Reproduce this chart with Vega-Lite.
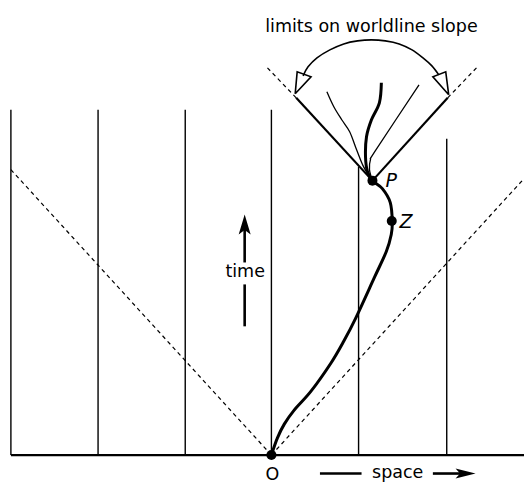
{
  "$schema": "https://vega.github.io/schema/vega-lite/v6.json",
  "width": 529,
  "height": 484,
  "autosize": {"type": "fit", "contains": "padding"},
  "padding": 0,
  "background": "white",
  "config": {"view": {"stroke": null}},
  "datasets": {
    "paths": [
      {"g": "v1", "k": "grid", "o": 0, "x": 11, "y": 110},
      {"g": "v1", "k": "grid", "o": 1, "x": 11, "y": 456},
      {"g": "v2", "k": "grid", "o": 0, "x": 99, "y": 110},
      {"g": "v2", "k": "grid", "o": 1, "x": 99, "y": 456},
      {"g": "v3", "k": "grid", "o": 0, "x": 187, "y": 110},
      {"g": "v3", "k": "grid", "o": 1, "x": 187, "y": 456},
      {"g": "v4", "k": "grid", "o": 0, "x": 274, "y": 110},
      {"g": "v4", "k": "grid", "o": 1, "x": 274, "y": 456},
      {"g": "v5", "k": "grid", "o": 0, "x": 362, "y": 167},
      {"g": "v5", "k": "grid", "o": 1, "x": 362, "y": 456},
      {"g": "v6", "k": "grid", "o": 0, "x": 451, "y": 139},
      {"g": "v6", "k": "grid", "o": 1, "x": 451, "y": 456},
      {"g": "ax", "k": "axis", "o": 0, "x": 11, "y": 456},
      {"g": "ax", "k": "axis", "o": 1, "x": 529, "y": 456},
      {"g": "c1", "k": "cone", "o": 0, "x": 274, "y": 456},
      {"g": "c1", "k": "cone", "o": 1, "x": 11, "y": 170},
      {"g": "c2", "k": "cone", "o": 0, "x": 274, "y": 456},
      {"g": "c2", "k": "cone", "o": 1, "x": 529, "y": 179},
      {"g": "c3", "k": "cone", "o": 0, "x": 299, "y": 98},
      {"g": "c3", "k": "cone", "o": 1, "x": 270, "y": 68},
      {"g": "c4", "k": "cone", "o": 0, "x": 452, "y": 98},
      {"g": "c4", "k": "cone", "o": 1, "x": 481, "y": 68},
      {"g": "e1", "k": "edge", "o": 0, "x": 376, "y": 181},
      {"g": "e1", "k": "edge", "o": 1, "x": 299, "y": 98},
      {"g": "e2", "k": "edge", "o": 0, "x": 376, "y": 181},
      {"g": "e2", "k": "edge", "o": 1, "x": 452, "y": 98},
      {"g": "w", "k": "world", "o": 0, "x": 274, "y": 456},
      {"g": "w", "k": "world", "o": 1, "x": 280, "y": 439},
      {"g": "w", "k": "world", "o": 2, "x": 287, "y": 425},
      {"g": "w", "k": "world", "o": 3, "x": 297, "y": 411},
      {"g": "w", "k": "world", "o": 4, "x": 314, "y": 392},
      {"g": "w", "k": "world", "o": 5, "x": 334, "y": 364},
      {"g": "w", "k": "world", "o": 6, "x": 347, "y": 342},
      {"g": "w", "k": "world", "o": 7, "x": 359, "y": 319},
      {"g": "w", "k": "world", "o": 8, "x": 378, "y": 278},
      {"g": "w", "k": "world", "o": 9, "x": 390, "y": 252},
      {"g": "w", "k": "world", "o": 10, "x": 395, "y": 235},
      {"g": "w", "k": "world", "o": 11, "x": 396, "y": 222},
      {"g": "w", "k": "world", "o": 12, "x": 394, "y": 203},
      {"g": "w", "k": "world", "o": 13, "x": 386, "y": 189},
      {"g": "w", "k": "world", "o": 14, "x": 376, "y": 181},
      {"g": "w", "k": "world", "o": 15, "x": 371, "y": 172},
      {"g": "w", "k": "world", "o": 16, "x": 369, "y": 157},
      {"g": "w", "k": "world", "o": 17, "x": 370, "y": 137},
      {"g": "w", "k": "world", "o": 18, "x": 375, "y": 120},
      {"g": "w", "k": "world", "o": 19, "x": 383, "y": 103},
      {"g": "w", "k": "world", "o": 20, "x": 385, "y": 83},
      {"g": "f1", "k": "fan", "o": 0, "x": 376, "y": 181},
      {"g": "f1", "k": "fan", "o": 1, "x": 367, "y": 167},
      {"g": "f1", "k": "fan", "o": 2, "x": 360, "y": 150},
      {"g": "f1", "k": "fan", "o": 3, "x": 353, "y": 132},
      {"g": "f1", "k": "fan", "o": 4, "x": 345, "y": 120},
      {"g": "f1", "k": "fan", "o": 5, "x": 337, "y": 107},
      {"g": "f1", "k": "fan", "o": 6, "x": 330, "y": 92},
      {"g": "f2", "k": "fan", "o": 0, "x": 376, "y": 181},
      {"g": "f2", "k": "fan", "o": 1, "x": 373, "y": 170},
      {"g": "f2", "k": "fan", "o": 2, "x": 374, "y": 160},
      {"g": "f2", "k": "fan", "o": 3, "x": 379, "y": 151},
      {"g": "f2", "k": "fan", "o": 4, "x": 423, "y": 85},
      {"g": "a", "k": "arc", "o": 0, "x": 306, "y": 76},
      {"g": "a", "k": "arc", "o": 1, "x": 311, "y": 67},
      {"g": "a", "k": "arc", "o": 2, "x": 320, "y": 58},
      {"g": "a", "k": "arc", "o": 3, "x": 333, "y": 50},
      {"g": "a", "k": "arc", "o": 4, "x": 347, "y": 44},
      {"g": "a", "k": "arc", "o": 5, "x": 361, "y": 41},
      {"g": "a", "k": "arc", "o": 6, "x": 375, "y": 40},
      {"g": "a", "k": "arc", "o": 7, "x": 389, "y": 41},
      {"g": "a", "k": "arc", "o": 8, "x": 403, "y": 44},
      {"g": "a", "k": "arc", "o": 9, "x": 416, "y": 50},
      {"g": "a", "k": "arc", "o": 10, "x": 427, "y": 58},
      {"g": "a", "k": "arc", "o": 11, "x": 436, "y": 66},
      {"g": "a", "k": "arc", "o": 12, "x": 443, "y": 75},
      {"g": "h1", "k": "head", "o": 0, "x": 298, "y": 94},
      {"g": "h1", "k": "head", "o": 1, "x": 300, "y": 72},
      {"g": "h1", "k": "head", "o": 2, "x": 314, "y": 77},
      {"g": "h1", "k": "head", "o": 3, "x": 298, "y": 94},
      {"g": "h2", "k": "head", "o": 0, "x": 453, "y": 95},
      {"g": "h2", "k": "head", "o": 1, "x": 450, "y": 72},
      {"g": "h2", "k": "head", "o": 2, "x": 437, "y": 77},
      {"g": "h2", "k": "head", "o": 3, "x": 453, "y": 95},
      {"g": "t1", "k": "shaft", "o": 0, "x": 247, "y": 228},
      {"g": "t1", "k": "shaft", "o": 1, "x": 247, "y": 263},
      {"g": "t2", "k": "shaft", "o": 0, "x": 247, "y": 285},
      {"g": "t2", "k": "shaft", "o": 1, "x": 247, "y": 327},
      {"g": "s1", "k": "shaft", "o": 0, "x": 323, "y": 474.5},
      {"g": "s1", "k": "shaft", "o": 1, "x": 365, "y": 474.5},
      {"g": "s2", "k": "shaft", "o": 0, "x": 437, "y": 474.5},
      {"g": "s2", "k": "shaft", "o": 1, "x": 466, "y": 474.5}
    ],
    "dots": [
      {"name": "O", "x": 274, "y": 456},
      {"name": "P", "x": 376, "y": 181},
      {"name": "Z", "x": 395.5, "y": 221.5}
    ],
    "heads": [
      {"dir": "up", "x": 247, "y": 225},
      {"dir": "right", "x": 470, "y": 474.5}
    ],
    "labels": [
      {"t": "limits on worldline slope", "x": 375, "y": 32},
      {"t": "time", "x": 247.5, "y": 278},
      {"t": "space", "x": 401.5, "y": 479},
      {"t": "O", "x": 275, "y": 481}
    ],
    "points": [
      {"t": "P", "x": 395, "y": 187},
      {"t": "Z", "x": 410, "y": 228.5}
    ]
  },
  "layer": [
    {
      "data": {"name": "paths"},
      "transform": [{"filter": "datum.k === 'grid'"}],
      "mark": {"type": "line", "color": "black", "strokeWidth": 1.4},
      "encoding": {
        "x": {"field": "x", "type": "quantitative", "scale": {"domain": [0, 529], "nice": false, "zero": false}, "axis": null},
        "y": {"field": "y", "type": "quantitative", "scale": {"domain": [0, 484], "reverse": true, "nice": false, "zero": false}, "axis": null},
        "detail": {"field": "g"},
        "order": {"field": "o"}
      }
    },
    {
      "data": {"name": "paths"},
      "transform": [{"filter": "datum.k === 'axis'"}],
      "mark": {"type": "line", "color": "black", "strokeWidth": 2.2},
      "encoding": {
        "x": {"field": "x", "type": "quantitative"},
        "y": {"field": "y", "type": "quantitative"},
        "detail": {"field": "g"},
        "order": {"field": "o"}
      }
    },
    {
      "data": {"name": "paths"},
      "transform": [{"filter": "datum.k === 'cone'"}],
      "mark": {"type": "line", "color": "black", "strokeWidth": 1.2, "strokeDash": [4, 3.5]},
      "encoding": {
        "x": {"field": "x", "type": "quantitative"},
        "y": {"field": "y", "type": "quantitative"},
        "detail": {"field": "g"},
        "order": {"field": "o"}
      }
    },
    {
      "data": {"name": "paths"},
      "transform": [{"filter": "datum.k === 'edge'"}],
      "mark": {"type": "line", "color": "black", "strokeWidth": 2.2},
      "encoding": {
        "x": {"field": "x", "type": "quantitative"},
        "y": {"field": "y", "type": "quantitative"},
        "detail": {"field": "g"},
        "order": {"field": "o"}
      }
    },
    {
      "data": {"name": "paths"},
      "transform": [{"filter": "datum.k === 'fan'"}],
      "mark": {"type": "line", "color": "black", "strokeWidth": 1.3, "interpolate": "cardinal"},
      "encoding": {
        "x": {"field": "x", "type": "quantitative"},
        "y": {"field": "y", "type": "quantitative"},
        "detail": {"field": "g"},
        "order": {"field": "o"}
      }
    },
    {
      "data": {"name": "paths"},
      "transform": [{"filter": "datum.k === 'world'"}],
      "mark": {"type": "line", "color": "black", "strokeWidth": 3, "interpolate": "cardinal"},
      "encoding": {
        "x": {"field": "x", "type": "quantitative"},
        "y": {"field": "y", "type": "quantitative"},
        "detail": {"field": "g"},
        "order": {"field": "o"}
      }
    },
    {
      "data": {"name": "paths"},
      "transform": [{"filter": "datum.k === 'arc'"}],
      "mark": {"type": "line", "color": "black", "strokeWidth": 1.6, "interpolate": "cardinal"},
      "encoding": {
        "x": {"field": "x", "type": "quantitative"},
        "y": {"field": "y", "type": "quantitative"},
        "detail": {"field": "g"},
        "order": {"field": "o"}
      }
    },
    {
      "data": {"name": "paths"},
      "transform": [{"filter": "datum.k === 'head'"}],
      "mark": {"type": "line", "color": "black", "strokeWidth": 1.6, "strokeJoin": "miter"},
      "encoding": {
        "x": {"field": "x", "type": "quantitative"},
        "y": {"field": "y", "type": "quantitative"},
        "detail": {"field": "g"},
        "order": {"field": "o"}
      }
    },
    {
      "data": {"name": "paths"},
      "transform": [{"filter": "datum.k === 'shaft'"}],
      "mark": {"type": "line", "color": "black", "strokeWidth": 2.6},
      "encoding": {
        "x": {"field": "x", "type": "quantitative"},
        "y": {"field": "y", "type": "quantitative"},
        "detail": {"field": "g"},
        "order": {"field": "o"}
      }
    },
    {
      "data": {"name": "heads"},
      "transform": [{"filter": "datum.dir === 'up'"}],
      "mark": {"type": "point", "filled": true, "color": "black", "opacity": 1, "size": 400, "shape": "M0,-1L0.6,1L0,0.55L-0.6,1Z"},
      "encoding": {
        "x": {"field": "x", "type": "quantitative"},
        "y": {"field": "y", "type": "quantitative"}
      }
    },
    {
      "data": {"name": "heads"},
      "transform": [{"filter": "datum.dir === 'right'"}],
      "mark": {"type": "point", "filled": true, "color": "black", "opacity": 1, "size": 400, "shape": "M1,0L-1,-0.5L-0.55,0L-1,0.5Z"},
      "encoding": {
        "x": {"field": "x", "type": "quantitative"},
        "y": {"field": "y", "type": "quantitative"}
      }
    },
    {
      "data": {"name": "dots"},
      "mark": {"type": "circle", "color": "black", "opacity": 1, "size": 100},
      "encoding": {
        "x": {"field": "x", "type": "quantitative"},
        "y": {"field": "y", "type": "quantitative"}
      }
    },
    {
      "data": {"name": "labels"},
      "mark": {"type": "text", "font": "DejaVu Sans", "fontSize": 17.5, "color": "black", "align": "center", "baseline": "alphabetic"},
      "encoding": {
        "x": {"field": "x", "type": "quantitative"},
        "y": {"field": "y", "type": "quantitative"},
        "text": {"field": "t"}
      }
    },
    {
      "data": {"name": "points"},
      "mark": {"type": "text", "font": "DejaVu Sans", "fontSize": 19, "fontStyle": "italic", "color": "black", "align": "center", "baseline": "alphabetic"},
      "encoding": {
        "x": {"field": "x", "type": "quantitative"},
        "y": {"field": "y", "type": "quantitative"},
        "text": {"field": "t"}
      }
    }
  ]
}
